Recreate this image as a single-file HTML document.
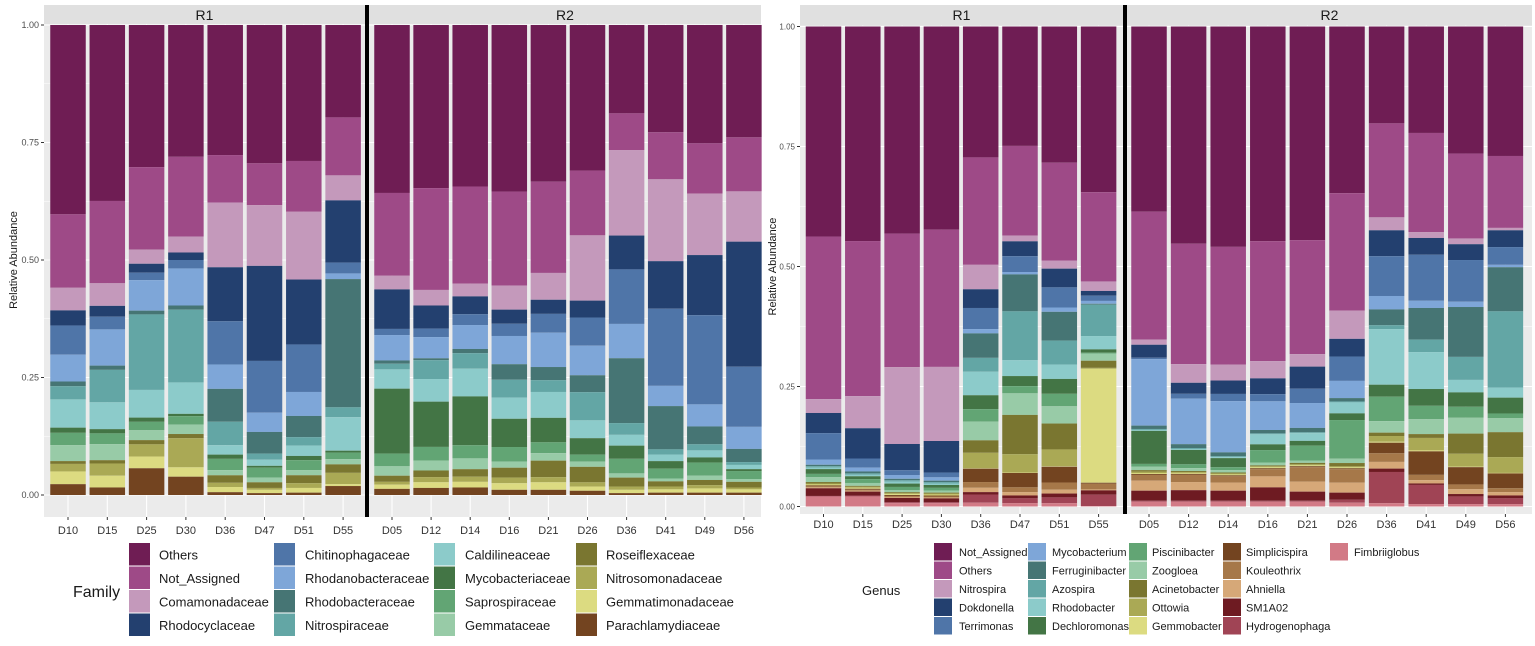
<!DOCTYPE html>
<html><head><meta charset="utf-8">
<style>
body{margin:0;background:#fff;width:1535px;height:646px;overflow:hidden;font-family:"Liberation Sans",sans-serif}
svg{position:absolute;left:0;top:0}
</style></head>
<body>
<svg id="chart" width="1535" height="646"></svg>
<script>
// ---------- LEFT (Family) data ----------
const famNames=["Others","Not_Assigned","Comamonadaceae","Rhodocyclaceae","Chitinophagaceae","Rhodanobacteraceae","Rhodobacteraceae","Nitrospiraceae","Caldilineaceae","Mycobacteriaceae","Saprospiraceae","Gemmataceae","Roseiflexaceae","Nitrosomonadaceae","Gemmatimonadaceae","Parachlamydiaceae"];
const famR1Cats=["D10","D15","D25","D30","D36","D47","D51","D55"];
const famR2Cats=["D05","D12","D14","D16","D21","D26","D36","D41","D49","D56"];
const famR1=[
[.402,.156,.048,.032,.062,.057,.010,.028,.060,.011,.026,.034,.006,.016,.027,.023],
[.374,.175,.048,.023,.027,.077,.009,.069,.057,.009,.023,.034,.007,.026,.025,.016],
[.303,.176,.030,.019,.016,.065,.008,.161,.059,.009,.018,.021,.009,.026,.025,.057],
[.281,.170,.034,.016,.018,.079,.009,.155,.067,.005,.018,.020,.009,.062,.020,.039],
[.277,.101,.138,.115,.092,.052,.070,.050,.020,.009,.024,.011,.016,.009,.011,.006],
[.294,.089,.129,.202,.110,.041,.046,.013,.013,.004,.021,.010,.012,.004,.007,.004],
[.289,.108,.144,.138,.101,.051,.045,.018,.022,.009,.021,.011,.017,.010,.010,.005],
[.196,.123,.053,.132,.023,.012,.272,.021,.071,.004,.014,.011,.018,.024,.004,.019]];
const famR2=[
[.357,.176,.029,.084,.013,.054,.007,.012,.041,.138,.027,.020,.013,.006,.009,.013],
[.346,.216,.033,.049,.018,.045,.004,.040,.048,.096,.029,.021,.014,.011,.012,.015],
[.344,.207,.027,.038,.023,.051,.009,.033,.059,.104,.028,.023,.016,.011,.012,.016],
[.354,.200,.051,.030,.026,.060,.033,.038,.045,.060,.031,.013,.021,.012,.014,.011],
[.333,.194,.057,.030,.040,.073,.028,.025,.055,.052,.023,.016,.035,.011,.016,.011],
[.310,.138,.139,.036,.060,.063,.036,.060,.038,.035,.015,.011,.033,.009,.009,.009],
[.188,.078,.182,.072,.116,.073,.138,.025,.023,.028,.031,.009,.019,.007,.007,.004],
[.228,.100,.174,.101,.164,.043,.092,.011,.014,.016,.021,.006,.011,.006,.007,.005],
[.252,.107,.131,.128,.190,.047,.038,.013,.015,.011,.028,.009,.011,.007,.009,.005],
[.239,.115,.107,.266,.128,.047,.028,.006,.009,.004,.017,.006,.012,.004,.007,.005]];
// ---------- RIGHT (Genus) data ----------
const genNames=["Not_Assigned","Others","Nitrospira","Dokdonella","Terrimonas","Mycobacterium","Ferruginibacter","Azospira","Rhodobacter","Dechloromonas","Piscinibacter","Zoogloea","Acinetobacter","Ottowia","Gemmobacter","Simplicispira","Kouleothrix","Ahniella","SM1A02","Hydrogenophaga","Fimbriiglobus"];
const genR1Cats=["D10","D15","D25","D30","D36","D47","D51","D55"];
const genR2Cats=["D05","D12","D14","D16","D21","D26","D36","D41","D49","D56"];
const genR1=[
[.438,.339,.029,.042,.055,.011,.003,.003,.003,.010,.007,.010,.003,.002,.002,.002,.002,.002,.016,.001,.021],
[.447,.323,.067,.063,.019,.008,.004,.003,.003,.006,.008,.006,.002,.002,.002,.002,.002,.002,.008,.002,.021],
[.434,.280,.161,.055,.010,.008,.003,.003,.004,.007,.007,.004,.002,.002,.002,.002,.002,.002,.009,.002,.007],
[.425,.287,.155,.066,.010,.007,.003,.003,.003,.006,.006,.004,.002,.002,.002,.002,.002,.002,.008,.002,.007],
[.273,.224,.051,.039,.044,.009,.051,.029,.049,.029,.026,.039,.026,.032,.001,.028,.012,.009,.005,.017,.008],
[.249,.187,.012,.031,.033,.005,.077,.102,.033,.021,.015,.045,.082,.038,.001,.030,.010,.007,.006,.010,.007],
[.284,.204,.017,.039,.042,.009,.060,.050,.030,.031,.026,.036,.054,.035,.001,.033,.015,.008,.008,.012,.007],
[.349,.188,.020,.010,.011,.006,.002,.066,.028,.007,.002,.015,.015,.002,.240,.002,.012,.002,.009,.024,.001]];
const genR2=[
[.387,.267,.011,.027,.003,.139,.007,.002,.002,.069,.006,.007,.003,.003,.002,.002,.012,.021,.021,.002,.010],
[.453,.251,.039,.023,.010,.095,.008,.002,.002,.030,.008,.006,.002,.002,.002,.002,.015,.017,.022,.002,.010],
[.460,.246,.033,.028,.015,.107,.008,.002,.002,.019,.006,.005,.002,.002,.002,.002,.013,.017,.021,.002,.010],
[.449,.251,.036,.033,.015,.060,.007,.002,.021,.012,.026,.006,.002,.002,.002,.002,.015,.023,.028,.002,.010],
[.446,.238,.026,.046,.030,.052,.009,.002,.016,.010,.031,.005,.003,.002,.002,.002,.030,.021,.019,.002,.010],
[.349,.246,.059,.037,.051,.036,.007,.002,.023,.014,.081,.009,.007,.002,.002,.002,.028,.021,.015,.006,.008],
[.202,.196,.027,.054,.083,.028,.033,.008,.116,.025,.051,.024,.007,.012,.002,.022,.018,.014,.007,.065,.007],
[.222,.207,.012,.035,.096,.015,.066,.026,.077,.035,.028,.031,.008,.026,.002,.049,.011,.007,.003,.040,.005],
[.265,.177,.012,.033,.087,.011,.104,.048,.026,.030,.023,.033,.042,.027,.001,.036,.010,.010,.005,.016,.005],
[.270,.150,.005,.035,.037,.005,.092,.159,.021,.033,.010,.029,.052,.033,.001,.031,.008,.007,.006,.012,.005]];
const yTicks=["0.00","0.25","0.50","0.75","1.00"];

const famColors=["#6f1d54","#9e4a87","#c499bb","#23406f","#4f75a8","#7ea6d8","#467574","#63a6a5","#8ccbca","#437545","#62a574","#98cba7","#7a7630","#aaa955","#dcdb81","#734420"];
const genColors=["#6f1d54","#9e4a87","#c499bb","#23406f","#4f75a8","#7ea6d8","#467574","#63a6a5","#8ccbca","#437545","#62a574","#98cba7","#7a7630","#aaa955","#dcdb81","#734420","#a67849","#d6a878","#6e1b22","#a04455","#d27a86"];

const NS="http://www.w3.org/2000/svg";
const svg=document.getElementById('chart');
function mk(tag,attrs,parent){const e=document.createElementNS(NS,tag);for(const k in attrs)e.setAttribute(k,attrs[k]);(parent||svg).appendChild(e);return e;}
function txt(s,attrs,parent){const t=mk('text',attrs,parent);t.textContent=s;return t;}

function drawChart(cfg){
  const g=mk('g',{});
  
  
  const y=v=>cfg.y0-(cfg.y0-cfg.y1)*v;
  cfg.panels.forEach((p,pi)=>{
    const pg=mk('g',{},g);
    
    
    mk('rect',{x:p.x0,y:cfg.top,width:p.x1-p.x0,height:cfg.bottom-cfg.top,fill:'#ebebeb'},pg);
    mk('rect',{x:p.x0,y:cfg.top,width:p.x1-p.x0,height:cfg.y1-cfg.top-1,fill:'#e0e0e0'},pg);
    const st=txt(p.label,{x:(p.x0+p.x1)/2,y:cfg.top+15,'text-anchor':'middle','font-size':14,fill:'#1a1a1a'},pg);
    
    
    for(let i=0;i<=8;i++){
      mk('line',{x1:p.x0,x2:p.x1,y1:y(i/8),y2:y(i/8),stroke:'#fff','stroke-width':i%2?0.6:1.1},pg);
    }
    const bx=i=>p.c0+i*p.step;
    p.cats.forEach((c,i)=>{
      mk('line',{x1:bx(i),x2:bx(i),y1:cfg.y1-1,y2:cfg.bottom,stroke:'#fff','stroke-width':1.1},pg);
    });
    p.cats.forEach((c,i)=>{
      const vals=p.data[i];const tot=vals.reduce((a,b)=>a+b,0);
      let cum=1;
      vals.forEach((v,k)=>{
        const h=v/tot;
        const r=mk('rect',{x:bx(i)-cfg.bw/2,y:y(cum),width:cfg.bw,height:Math.max(0,y(cum-h)-y(cum)),fill:cfg.colors[k]},pg);
        
        
        cum-=h;
      });
      mk('line',{x1:bx(i),x2:bx(i),y1:cfg.bottom,y2:cfg.bottom+3,stroke:'#333','stroke-width':1},g);
      const xl=txt(c,{x:bx(i),y:cfg.bottom+cfg.xlOff,'text-anchor':'middle','font-size':cfg.xfs,fill:'#333'},g);
      
      
    });
    if(pi===0){
      mk('rect',{x:p.x1,y:cfg.top,width:cfg.sepW,height:cfg.bottom-cfg.top,fill:'#000'},g);
    }
  });
  yTicks.forEach((t,i)=>{
    const yy=y(i/4);
    mk('line',{x1:cfg.panels[0].x0-3,x2:cfg.panels[0].x0,y1:yy,y2:yy,stroke:'#333'},g);
    const tl=txt(t,{x:cfg.panels[0].x0-5,y:yy+3,'text-anchor':'end','font-size':cfg.yfs,fill:'#4d4d4d'},g);
    
    
  });
  const yt=txt('Relative Abundance',{x:cfg.ytX,y:(cfg.y0+cfg.y1)/2,'text-anchor':'middle','font-size':11,fill:'#1a1a1a',transform:`rotate(-90 ${cfg.ytX} ${(cfg.y0+cfg.y1)/2})`},g);
  
  
  const lg=mk('g',{},g);
  
  
  const L=cfg.legend;
  const lt=txt(L.title,{x:L.titleX,y:L.titleY,'font-size':L.titleFs,fill:'#1a1a1a'},lg);
  
  
  cfg.series.forEach((s,k)=>{
    const col=Math.floor(k/L.rows),row=k%L.rows;
    const e=mk('g',{},lg);
    
    
    mk('rect',{x:L.keyX[col],y:L.top+row*L.rowH,width:L.keyW,height:L.rowH-1,fill:cfg.colors[k]},e);
    txt(s,{x:L.textX[col],y:L.top+row*L.rowH+L.rowH/2+L.fs*0.36,'font-size':L.fs,fill:'#1a1a1a'},e);
  });
}

drawChart({name:'family-chart',legendName:'family-legend',series:famNames,colors:famColors,
  top:5,y1:25,y0:495,bottom:517,bw:35.5,sepW:4,xlOff:17,xfs:11,yfs:9,ytX:17,
  panels:[{label:'R1',x0:44,x1:365,c0:68,step:39.3,cats:famR1Cats,data:famR1},
          {label:'R2',x0:369,x1:761,c0:392,step:39.1,cats:famR2Cats,data:famR2}],
  legend:{title:'Family',titleX:73,titleY:597,titleFs:16,rows:4,top:543,rowH:23.5,keyW:21,
    keyX:[129,274,434,576],textX:[159,305,465,606],fs:13}});

drawChart({name:'genus-chart',legendName:'genus-legend',series:genNames,colors:genColors,
  top:5,y1:26.5,y0:506.5,bottom:514,bw:35.5,sepW:4,xlOff:14,xfs:11,yfs:8,ytX:776,
  panels:[{label:'R1',x0:800,x1:1123,c0:823.5,step:39.3,cats:genR1Cats,data:genR1},
          {label:'R2',x0:1127,x1:1532,c0:1149,step:39.6,cats:genR2Cats,data:genR2}],
  legend:{title:'Genus',titleX:862,titleY:595,titleFs:13,rows:5,top:543,rowH:18.5,keyW:18,
    keyX:[934,1028,1129,1223,1330],textX:[959,1052,1152,1246,1354],fs:11}});
</script>
</body></html>
